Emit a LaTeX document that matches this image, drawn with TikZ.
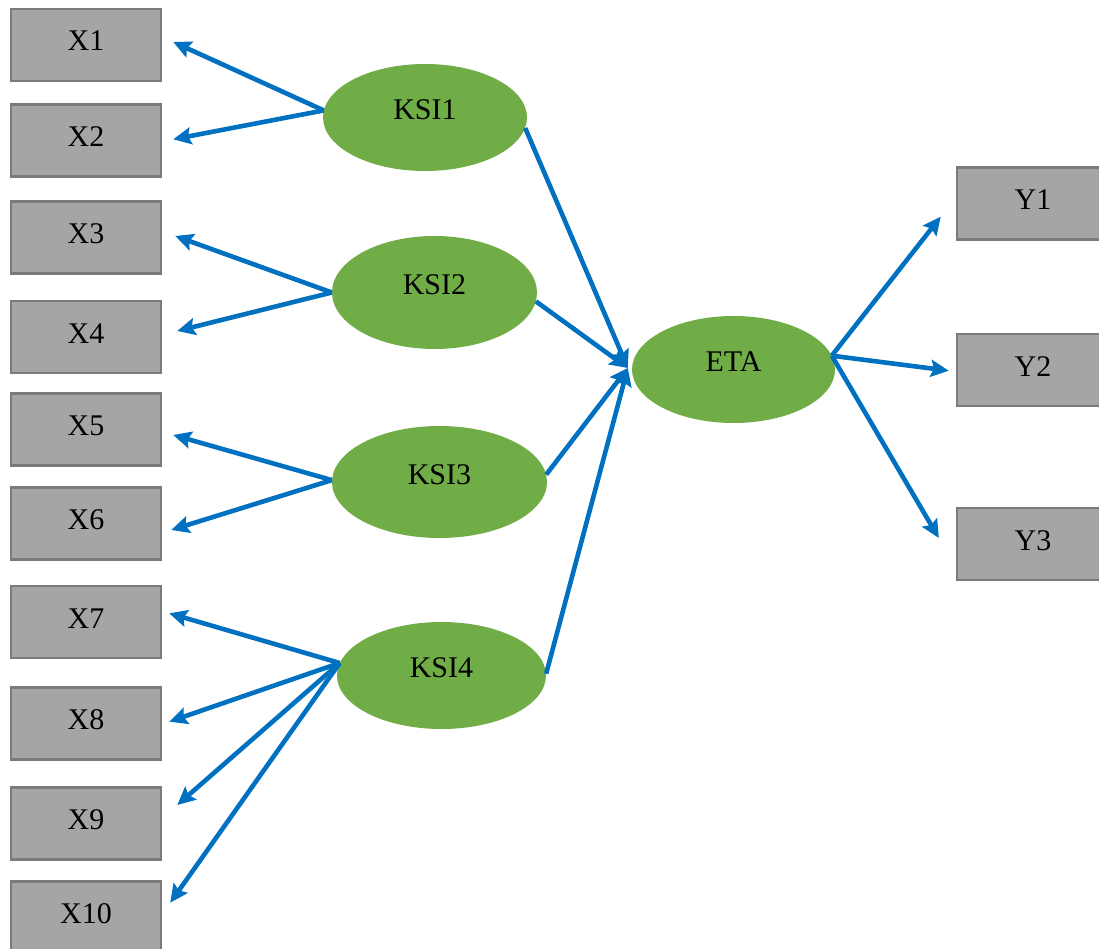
\documentclass[tikz,border=0pt]{standalone}
\usepackage{fontspec}
\setmainfont{Liberation Serif}
\usetikzlibrary{arrows.meta,calc,shapes.geometric}
\definecolor{boxfill}{HTML}{A5A5A5}
\definecolor{boxline}{HTML}{7B7B7B}
\definecolor{latfill}{HTML}{70AD47}
\definecolor{arrcol}{HTML}{0070C0}
\begin{document}
\begin{tikzpicture}[x=1pt,y=-1pt,
  obs/.style={rectangle, draw=boxline, line width=2.5pt, fill=boxfill,
    minimum width=150pt, minimum height=72pt, inner sep=0pt,
    font=\fontsize{30}{36}\selectfont, text height=20pt, text depth=8pt},
  lat/.style={ellipse, fill=latfill, inner sep=0pt,
    font=\fontsize{30}{36}\selectfont, text height=18pt, text depth=14pt},
  arr/.style={draw=arrcol, line width=4.6pt,
    -{Stealth[length=18pt,width=17pt,inset=3pt]}}]
\clip (0,0) rectangle (1099,949);
\fill[white] (0,0) rectangle (1099,949);

% observed X boxes
\node[obs] (x1)  at (86,45)    {X1};
\node[obs] (x2)  at (86,140.7) {X2};
\node[obs] (x3)  at (86,237.5) {X3};
\node[obs] (x4)  at (86,337)   {X4};
\node[obs] (x5)  at (86,429.5) {X5};
\node[obs] (x6)  at (86,523.5) {X6};
\node[obs] (x7)  at (86,622)   {X7};
\node[obs] (x8)  at (86,723.7) {X8};
\node[obs] (x9)  at (86,823.7) {X9};
\node[obs] (x10) at (86,917.7) {X10};

% observed Y boxes
\node[obs, minimum width=152pt] (y1) at (1033,203.7) {Y1};
\node[obs, minimum width=152pt] (y2) at (1033,370)   {Y2};
\node[obs, minimum width=152pt] (y3) at (1033,544)   {Y3};

% latent variables
\node[lat, minimum width=204pt, minimum height=107pt] (k1) at (425,117.5) {KSI1};
\node[lat, minimum width=205pt, minimum height=113pt] (k2) at (434.5,292.5) {KSI2};
\node[lat, minimum width=215pt, minimum height=112pt] (k3) at (439.5,482) {KSI3};
\node[lat, minimum width=209pt, minimum height=107pt] (k4) at (441.5,675.5) {KSI4};
\node[lat, minimum width=203pt, minimum height=107pt] (eta) at (733.5,369.5) {ETA};

\coordinate (etain) at ($(eta.west)+(-4,-1.5)$);

% KSI -> X
\draw[arr] (k1.176) -- ($(x1.east)+(11,-3)$);
\draw[arr] (k1.176) -- ($(x2.east)+(11,-1.4)$);
\draw[arr] (k2.180) -- ($(x3.east)+(13,-1.5)$);
\draw[arr] (k2.180) -- ($(x4.east)+(15,-6)$);
\draw[arr] (k3.179) -- ($(x5.east)+(11,5.5)$);
\draw[arr] (k3.179) -- ($(x6.east)+(9,6.5)$);
\draw[arr] (k4.173) -- ($(x7.east)+(7,-8.7)$);
\draw[arr] (k4.173) -- ($(x8.east)+(7,-2)$);
\draw[arr] (k4.173) -- ($(x9.east)+(15,-18.7)$);
\draw[arr] (k4.173) -- ($(x10.east)+(8,-15)$);

% KSI -> ETA
\draw[arr] (k1.-6)  -- (etain);
\draw[arr] (k2.-5)  -- (etain);
\draw[arr] (k3.4)   -- (etain);
\draw[arr] (k4.1)   -- (etain);

% ETA -> Y
\draw[arr] (eta.8) -- ($(y1.west)+(-15,13)$);
\draw[arr] (eta.8) -- ($(y2.west)+(-7,0.7)$);
\draw[arr] (eta.8) -- ($(y3.west)+(-17,-6)$);
\end{tikzpicture}
\end{document}
